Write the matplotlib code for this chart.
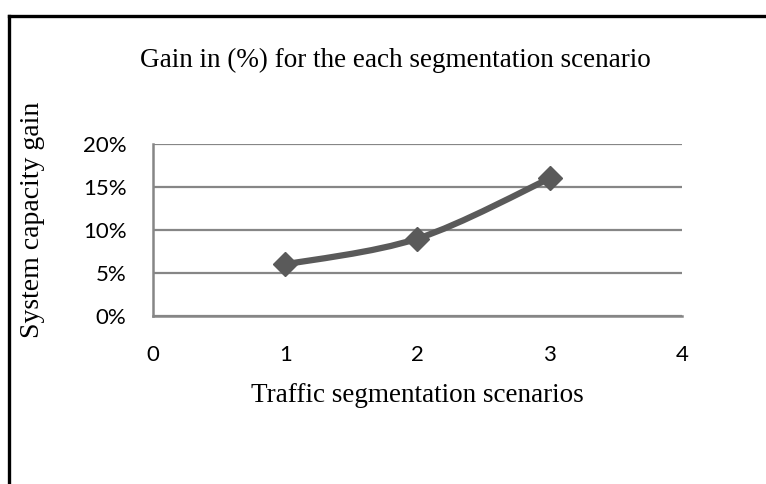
import numpy as np
import matplotlib as mpl
mpl.use('Agg')
import matplotlib.pyplot as plt
from matplotlib.path import Path
from matplotlib.patches import PathPatch
from matplotlib.lines import Line2D
from matplotlib.ticker import FuncFormatter

########################################################
scenarios = [1, 2, 3]
gain = [0.06, 0.09, 0.16]
x_ticks = [0, 1, 2, 3, 4]
y_ticks = [0.0, 0.05, 0.10, 0.15, 0.20]
title = 'Gain in (%) for the each segmentation scenario'
xlabel = 'Traffic segmentation scenarios'
ylabel = 'System capacity gain'
########################################################

W, H = 766, 484
fig = plt.figure(figsize=(W / 100, H / 100), dpi=100)
fig.patch.set_facecolor('white')

# plot area, in pixels of the reference
left, right, top, bottom = 153, 682, 144, 316
ax = fig.add_axes([left / W, 1 - bottom / H, (right - left) / W, (bottom - top) / H])

grid_c = '#868686'
line_c = '#5a5a5a'
serif = 'Liberation Serif'
sans = 'Lato'

ax.set_xlim(0, 4)
ax.set_ylim(0, 0.20)
ax.set_xticks(x_ticks)
ax.set_yticks(y_ticks)
ax.yaxis.set_major_formatter(FuncFormatter(lambda v, p: '%d%%' % round(v * 100)))
ax.grid(axis='y', color=grid_c, linewidth=1.6)
ax.set_axisbelow(True)
for s in ['top', 'right']:
    ax.spines[s].set_visible(False)
for s in ['left', 'bottom']:
    ax.spines[s].set_color(grid_c)
    ax.spines[s].set_linewidth(1.8)
ax.tick_params(length=0, labelsize=16)
ax.tick_params(axis='y', pad=19)
ax.tick_params(axis='x', pad=21)
for lab in ax.get_xticklabels() + ax.get_yticklabels():
    lab.set_family(sans)
    lab.set_color('black')

# smoothed line (Excel style), control points from the data points
xs = np.array(scenarios, dtype=float)
ys = np.array(gain, dtype=float)
n = len(xs)
verts = [(xs[0], ys[0])]
codes = [Path.MOVETO]
for i in range(n - 1):
    p0 = np.array([xs[max(i - 1, 0)], ys[max(i - 1, 0)]])
    p1 = np.array([xs[i], ys[i]])
    p2 = np.array([xs[i + 1], ys[i + 1]])
    p3 = np.array([xs[min(i + 2, n - 1)], ys[min(i + 2, n - 1)]])
    c1 = p1 + (p2 - p0) / 6.0
    c2 = p2 - (p3 - p1) / 6.0
    verts += [tuple(c1), tuple(c2), tuple(p2)]
    codes += [Path.CURVE4] * 3
ax.add_patch(PathPatch(Path(verts, codes), facecolor='none', edgecolor=line_c,
                       linewidth=4.5, capstyle='round', joinstyle='round', zorder=3))
ax.plot(scenarios, gain, linestyle='none', marker='D', markersize=12.5,
        color=line_c, zorder=4)

fig.text(395 / W, 1 - 60 / H, title, family=serif, fontsize=19.5,
         ha='center', va='center')
fig.text(417 / W, 1 - 396 / H, xlabel, family=serif, fontsize=19.5,
         ha='center', va='center')
fig.text(33 / W, 1 - 220 / H, ylabel, family=serif, fontsize=20,
         ha='center', va='center', rotation=90)

# outer frame (top and left edges visible)
fig.add_artist(Line2D([9 / W, 1], [1 - 16 / H, 1 - 16 / H], color='black',
                      linewidth=2.4, transform=fig.transFigure))
fig.add_artist(Line2D([9 / W, 9 / W], [0, 1 - 16 / H], color='black',
                      linewidth=2.4, transform=fig.transFigure))

fig.savefig('out.png', dpi=100)
